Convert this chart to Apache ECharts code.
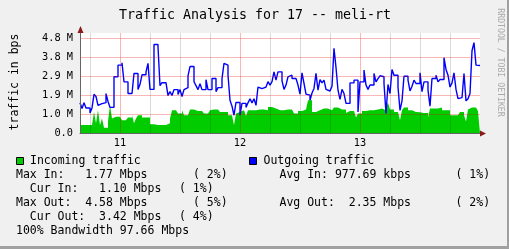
<!DOCTYPE html>
<html><head><meta charset="utf-8">
<script src="https://cdn.jsdelivr.net/npm/echarts@6/dist/echarts.min.js"></script>
<style>html,body{margin:0;padding:0;background:#f0f0f0;}#c{width:509px;height:249px;}</style>
</head><body><div id="c"></div>
<script>
// time axis: hours after day 10 00:00
const startHour = 16;
const endHour = 96;
const slotHours = 0.4;
const firstDay = 10;
// values in Mbps, one per 24-minute slot
const incoming = [0.41,0.41,0.41,0.41,0.41,0.41,0.32,1.07,0.5,1.15,
  0.41,0.73,0.27,0.27,0.58,1.41,0.73,0.82,0.82,0.82,
  0.73,0.65,0.65,0.65,0.78,0.78,0.9,0.5,0.73,0.9,
  0.9,0.78,0.78,0.78,0.78,0.44,0.44,0.44,0.41,0.41,
  0.41,0.41,0.41,0.5,0.5,0.73,1.15,1.15,1.15,0.99,
  0.99,1.15,0.9,0.9,0.9,1.19,1.19,1.19,1.12,1.12,
  1.12,1.12,0.99,0.99,0.99,1.15,1.19,1.19,1.19,1.15,
  1.07,1.07,1.07,1.07,0.9,0.9,0.82,0.41,0.99,1.07,
  1.07,1.15,1.15,0.86,1.15,1.15,1.15,1.15,1.24,1.19,
  1.19,1.19,1.15,1.15,1.32,1.32,1.24,1.24,1.24,1.15,
  1.15,1.15,1.15,1.19,1.19,1.19,1.19,0.99,0.99,1.12,
  1.12,1.12,1.19,1.19,1.66,1.66,1.07,1.07,1.15,1.15,
  1.24,1.24,1.24,1.24,1.15,1.15,1.15,1.29,1.29,1.29,
  1.19,1.19,1.19,1.02,1.12,1.12,1.12,1.12,0.78,0.99,
  0.99,1.12,1.12,1.12,1.15,1.15,1.15,1.19,1.19,1.19,
  1.24,1.24,1.15,1.29,1.53,1.19,1.19,1.07,1.07,1.07,
  0.65,1.15,1.29,1.29,1.15,1.15,1.07,1.07,1.07,1.05,
  1.02,1.02,1.02,1.02,0.78,1.24,1.24,1.24,1.24,1.29,
  1.29,1.15,1.15,1.15,1.15,0.9,0.9,0.9,0.9,0.9,
  1.07,1.07,0.9,0.58,1.19,1.29,1.29,1.29,1.2,1.1];
const outgoing = [1.53,1.24,1.53,1.27,1.27,1.02,1.27,1.96,1.85,1.4,
  1.49,1.54,1.54,2.0,1.6,1.3,1.3,2.85,2.85,3.44,
  3.44,3.56,2.59,2.59,2.0,2.0,1.9,3.02,3.02,2.21,
  2.47,2.95,2.95,3.1,3.53,2.21,2.21,4.49,4.49,4.37,
  2.4,2.55,2.55,2.55,1.9,2.1,1.9,2.2,2.2,1.95,
  2.2,1.85,2.2,2.3,2.9,3.37,3.37,2.6,2.4,2.2,
  2.5,2.2,2.2,2.7,2.2,2.2,2.76,2.76,2.1,2.3,
  2.3,2.76,3.53,3.44,2.93,1.66,1.36,0.9,1.55,1.55,
  0.9,1.5,1.5,1.3,1.53,1.74,1.53,1.74,1.4,2.33,
  2.25,2.25,2.33,2.33,2.6,2.43,2.6,3.1,2.68,3.1,
  3.1,2.65,2.21,2.43,2.85,2.93,2.76,2.76,2.8,2.43,
  1.97,3.05,2.51,1.97,1.92,1.66,2.03,2.26,3.02,2.17,
  2.71,2.54,2.68,2.21,2.13,2.13,2.37,4.29,3.32,2.17,
  1.7,2.21,2.0,1.5,1.5,2.54,2.54,2.68,2.68,1.07,
  2.59,2.59,3.19,2.43,2.21,2.43,2.43,3.02,2.59,2.76,
  2.9,2.85,2.51,0.99,2.46,2.0,3.22,2.93,2.93,2.33,
  1.15,1.63,2.88,2.88,2.68,2.13,2.37,2.68,2.51,2.51,
  3.05,2.1,2.59,2.59,2.17,1.36,2.76,2.76,2.93,2.59,
  2.71,2.71,3.82,3.22,2.93,2.33,2.54,3.05,2.21,1.74,
  1.79,1.79,3.02,1.63,1.74,2.0,4.17,4.58,3.44,3.42];
const yMax = 5.07;
const yStep = 0.96;
const title = 'Traffic Analysis for 17 -- meli-rt';
const yName = 'traffic in bps';
const credit = 'RRDTOOL / TOBI OETIKER';
const legendNames = ['Incoming traffic', 'Outgoing traffic'];
const statsLeft = [
  ['Max In:   1.77 Mbps', '( 2%)'],
  ['  Cur In:   1.10 Mbps', '( 1%)'],
  ['Max Out:  4.58 Mbps', '( 5%)'],
  ['  Cur Out:  3.42 Mbps', '( 4%)']
];
const statsRight = [['Avg In: 977.69 kbps', '( 1%)'], ['Avg Out:  2.35 Mbps', '( 2%)']];
const bandwidth = '100% Bandwidth 97.66 Mbps';

const FONT = '"DejaVu Sans Mono", monospace';
function toSeries(arr) {
  const d = arr.map((v, i) => [startHour + i * slotHours, v]);
  d.push([startHour + arr.length * slotHours, arr[arr.length - 1]]);
  return d;
}
const xColors = [];
for (let h = startHour; h < startHour + 24; h += 2) {
  const m = h % 24;
  xColors.push(m === 0 ? 'rgba(230,0,0,0.28)' : (m % 6 === 0 ? 'rgba(0,0,0,0.14)' : 'rgba(0,0,0,0)'));
}
const G = {left: 80, top: 33, width: 400, height: 100};
const txt = (text, x, y, extra) => ({type: 'text', x, y, z: 10, style: Object.assign({text, font: '11.5px ' + FONT, fill: '#000', verticalAlign: 'middle', align: 'left'}, extra || {})});
const rows = [161, 175, 189, 203.2, 217.3, 231.5];
const graphics = [
  txt(title, 255, 16, {align: 'center', font: '13.3px ' + FONT}),
  Object.assign(txt(yName, 0, 0, {align: 'center'}), {x: 15, y: 82, rotation: Math.PI / 2}),
  Object.assign(txt(credit, 0, 0, {align: 'center', font: '8.2px ' + FONT, fill: '#aaaaaa'}), {x: 500, y: 62.5, rotation: -Math.PI / 2}),
  {type: 'rect', shape: {x: 16.5, y: 157.5, width: 7, height: 7}, style: {fill: '#00cc00', stroke: '#000', lineWidth: 1}, z: 10},
  txt(legendNames[0], 30, rows[0]),
  {type: 'rect', shape: {x: 249.5, y: 157.5, width: 7, height: 7}, style: {fill: '#0000ff', stroke: '#000', lineWidth: 1}, z: 10},
  txt(legendNames[1], 263.5, rows[0]),
  txt(statsLeft[0][0], 16, rows[1]), txt(statsLeft[0][1], 193, rows[1]),
  txt(statsRight[0][0], 279.5, rows[1]), txt(statsRight[0][1], 455.5, rows[1]),
  txt(statsLeft[1][0], 16, rows[2]), txt(statsLeft[1][1], 179, rows[2]),
  txt(statsLeft[2][0], 16, rows[3]), txt(statsLeft[2][1], 193, rows[3]),
  txt(statsRight[1][0], 279.5, rows[3]), txt(statsRight[1][1], 455.5, rows[3]),
  txt(statsLeft[3][0], 16, rows[4]), txt(statsLeft[3][1], 179, rows[4]),
  txt(bandwidth, 16, rows[5]),
  {type: 'polygon', z: 20, shape: {points: [[G.left + G.width, G.top + G.height - 2.5], [G.left + G.width + 6, G.top + G.height + 0.5], [G.left + G.width, G.top + G.height + 3.5]]}, style: {fill: '#8b1a1a'}},
  {type: 'polygon', z: 20, shape: {points: [[G.left - 2.5, G.top], [G.left + 0.5, G.top - 7], [G.left + 3.5, G.top]]}, style: {fill: '#8b1a1a'}},
  {type: 'rect', z: 30, shape: {x: 507, y: 0, width: 2, height: 249}, style: {fill: '#a0a0a0'}},
  {type: 'rect', z: 30, shape: {x: 0, y: 246, width: 509, height: 3}, style: {fill: '#a0a0a0'}}
];

const chart = echarts.init(document.getElementById('c'), null, {renderer: 'canvas'});
chart.setOption({
  animation: false,
  backgroundColor: '#f0f0f0',
  grid: Object.assign({show: true, backgroundColor: '#ffffff', borderWidth: 0}, G),
  xAxis: {
    type: 'value', min: startHour, max: endHour, interval: 2, z: 5,
    axisLine: {show: true, lineStyle: {color: '#666', width: 1}},
    axisTick: {show: false},
    axisLabel: {
      fontFamily: FONT, fontSize: 10.3, color: '#000', margin: 5, showMaxLabel: false, showMinLabel: false, hideOverlap: false,
      formatter: v => (Math.round(v) % 24 === 0 ? String(firstDay + Math.round(v) / 24) : '')
    },
    splitLine: {show: true, showMaxLine: false, lineStyle: {color: xColors, width: 1}}
  },
  yAxis: {
    type: 'value', min: 0, max: yMax, interval: yStep, z: 5,
    axisLine: {show: true, lineStyle: {color: '#666', width: 1}},
    axisTick: {show: false},
    axisLabel: {
      fontFamily: FONT, fontSize: 10.3, color: '#000', margin: 7, showMaxLabel: false,
      formatter: v => (v === 0 ? '0.0' : v.toFixed(1) + ' M')
    },
    splitLine: {show: true, showMaxLine: false, lineStyle: {color: 'rgba(230,0,0,0.28)', width: 1}}
  },
  series: [
    {type: 'line', step: 'end', data: toSeries(incoming), showSymbol: false, z: 2,
      lineStyle: {width: 0, color: '#00cc00'}, itemStyle: {color: '#00cc00'},
      areaStyle: {color: '#00cc00', opacity: 1}},
    {type: 'line', step: 'end', data: toSeries(outgoing), showSymbol: false, z: 3,
      lineStyle: {width: 1.4, color: '#0000ff'}, itemStyle: {color: '#0000ff'}}
  ],
  graphic: graphics
});
</script></body></html>
